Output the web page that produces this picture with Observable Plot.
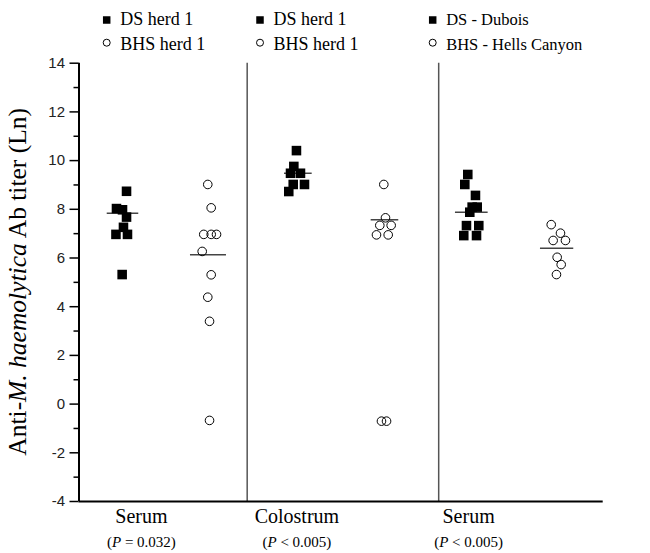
<!DOCTYPE html>
<html><head><meta charset="utf-8">
<script src="https://cdn.jsdelivr.net/npm/d3@7"></script>
<script src="https://cdn.jsdelivr.net/npm/@observablehq/plot@0.6"></script>
<style>
body{margin:0;background:#fff;}
#wrap{width:650px;height:553px;overflow:hidden;}
</style></head><body><div id="wrap"></div>
<script>
// ---- data ----
const categories = ["Serum", "Colostrum", "Serum"];
const pLabels = ["= 0.032", "< 0.005", "< 0.005"];
const groupX = [0.72, 2.50, 4.465];           // category label centres (x units)
const dividersX = [1.925, 4.117];
const legendDS = ["DS herd 1", "DS herd 1", "DS - Dubois"];
const legendBHS = ["BHS herd 1", "BHS herd 1", "BHS - Hells Canyon"];
const yTicks = [-4, -2, 0, 2, 4, 6, 8, 10, 12, 14];
const yMinorTicks = [-3, -1, 1, 3, 5, 7, 9, 11, 13];

// DS (filled squares): x position (jittered) and titer
const dsX = [0.544, 0.429, 0.498, 0.544, 0.509, 0.423, 0.555, 0.494,
             2.489, 2.459, 2.421, 2.535, 2.452, 2.581, 2.401,
             4.450, 4.416, 4.538, 4.500, 4.558, 4.473, 4.435, 4.576, 4.404, 4.550];
const dsY = [8.74, 8.03, 7.98, 7.68, 7.26, 6.97, 6.97, 5.32,
             10.41, 9.76, 9.48, 9.48, 9.02, 9.02, 8.73,
             9.43, 9.02, 8.57, 8.09, 8.09, 7.88, 7.33, 7.33, 6.92, 6.92];
// BHS (open circles)
const bhsX = [1.474, 1.513, 1.428, 1.513, 1.574, 1.410, 1.513, 1.474, 1.494, 1.494,
              3.489, 3.508, 3.443, 3.573, 3.405, 3.539, 3.462, 3.520,
              5.405, 5.511, 5.427, 5.568, 5.473, 5.519, 5.465];
const bhsY = [9.02, 8.06, 6.97, 6.97, 6.97, 6.27, 5.31, 4.39, 3.40, -0.67,
              9.02, 7.65, 7.34, 7.34, 6.95, 6.95, -0.70, -0.70,
              7.37, 7.02, 6.72, 6.72, 6.03, 5.73, 5.32];
// group mean bars
const meanX1 = [0.323, 1.276, 2.352, 3.344, 4.309, 5.282];
const meanX2 = [0.684, 1.688, 2.669, 3.660, 4.683, 5.663];
const meanY = [7.84, 6.13, 9.48, 7.57, 7.88, 6.40];

const ds = dsX.map((x, i) => ({x, y: dsY[i]}));
const bhs = bhsX.map((x, i) => ({x, y: bhsY[i]}));
const means = meanY.map((y, i) => ({x1: meanX1[i], x2: meanX2[i], y}));

const serif = "'Liberation Serif','Times New Roman',serif";
const sans = "'Liberation Sans',Arial,sans-serif";

const plot = Plot.plot({
  width: 650, height: 553,
  marginLeft: 78.5, marginRight: 47.3, marginTop: 62.7, marginBottom: 52,
  x: {domain: [0, 6], axis: null},
  y: {domain: [-4, 14]},
  style: {fontFamily: sans, background: "#fff", color: "#000"},
  marks: [
    Plot.ruleX(dividersX, {y1: -4, y2: 14, stroke: "#555", strokeWidth: 1.5}),
    Plot.axisY({ticks: yTicks, tickSize: 9, tickPadding: 5, fontSize: 15, strokeWidth: 1.5, label: null,
                tickFormat: d => String(d), fill: "#222"}),
    Plot.axisY({ticks: yMinorTicks, tickSize: 5, strokeWidth: 1.5, text: null, label: null}),
    Plot.ruleX([0], {y1: -4, y2: 14, stroke: "#000", strokeWidth: 2}),
    Plot.ruleY([-4], {x1: 0, x2: 6, stroke: "#000", strokeWidth: 2}),
    Plot.ruleY(means, {x1: "x1", x2: "x2", y: "y", stroke: "#444", strokeWidth: 1.5}),
    Plot.dot(ds, {x: "x", y: "y", symbol: "square", r: 5.4, fill: "#000"}),
    Plot.dot(bhs, {x: "x", y: "y", r: 4.3, fill: "none", stroke: "#000", strokeWidth: 1})
  ]
});

const svg = d3.select(plot);
const xs = plot.scale("x");
const ys = plot.scale("y");

// category labels
categories.forEach((c, i) => {
  svg.append("text").attr("x", xs.apply(groupX[i])).attr("y", ys.apply(-4) + 22)
    .attr("text-anchor", "middle").attr("font-family", serif).attr("font-size", 20)
    .attr("fill", "#000").text(c);
  const t = svg.append("text").attr("x", xs.apply(groupX[i])).attr("y", ys.apply(-4) + 46)
    .attr("text-anchor", "middle").attr("font-family", serif).attr("font-size", 15).attr("fill", "#000");
  t.append("tspan").text("(");
  t.append("tspan").attr("font-style", "italic").text("P");
  t.append("tspan").text(" " + pLabels[i] + ")");
});

// y axis title
const yt = svg.append("text")
  .attr("transform", `translate(26,${(ys.apply(14) + ys.apply(-4)) / 2}) rotate(-90)`)
  .attr("text-anchor", "middle").attr("font-family", serif).attr("font-size", 25.5).attr("fill", "#000");
yt.append("tspan").text("Anti-");
yt.append("tspan").attr("font-style", "italic").text("M. haemolytica");
yt.append("tspan").text(" Ab titer (Ln)");

// legend
const legX = [106.7, 260, 432.7];
const legSize = [18, 18, 16.5];
const lg = svg.append("g").attr("text-anchor", "start");
legendDS.forEach((name, i) => {
  lg.append("rect").attr("x", legX[i] - 3.75).attr("y", 20 - 3.75).attr("width", 7.5).attr("height", 7.5).attr("fill", "#000");
  lg.append("text").attr("x", legX[i] + 13.5).attr("y", 25).attr("text-anchor", "start").attr("font-family", serif)
    .attr("font-size", legSize[i]).attr("fill", "#000").text(name);
  lg.append("circle").attr("cx", legX[i]).attr("cy", 42.7).attr("r", 3.5).attr("fill", "none")
    .attr("stroke", "#000").attr("stroke-width", 1);
  lg.append("text").attr("x", legX[i] + 13.5).attr("y", 50).attr("text-anchor", "start").attr("font-family", serif)
    .attr("font-size", legSize[i]).attr("fill", "#000").text(legendBHS[i]);
});

document.getElementById("wrap").appendChild(plot);
</script>
</body></html>
